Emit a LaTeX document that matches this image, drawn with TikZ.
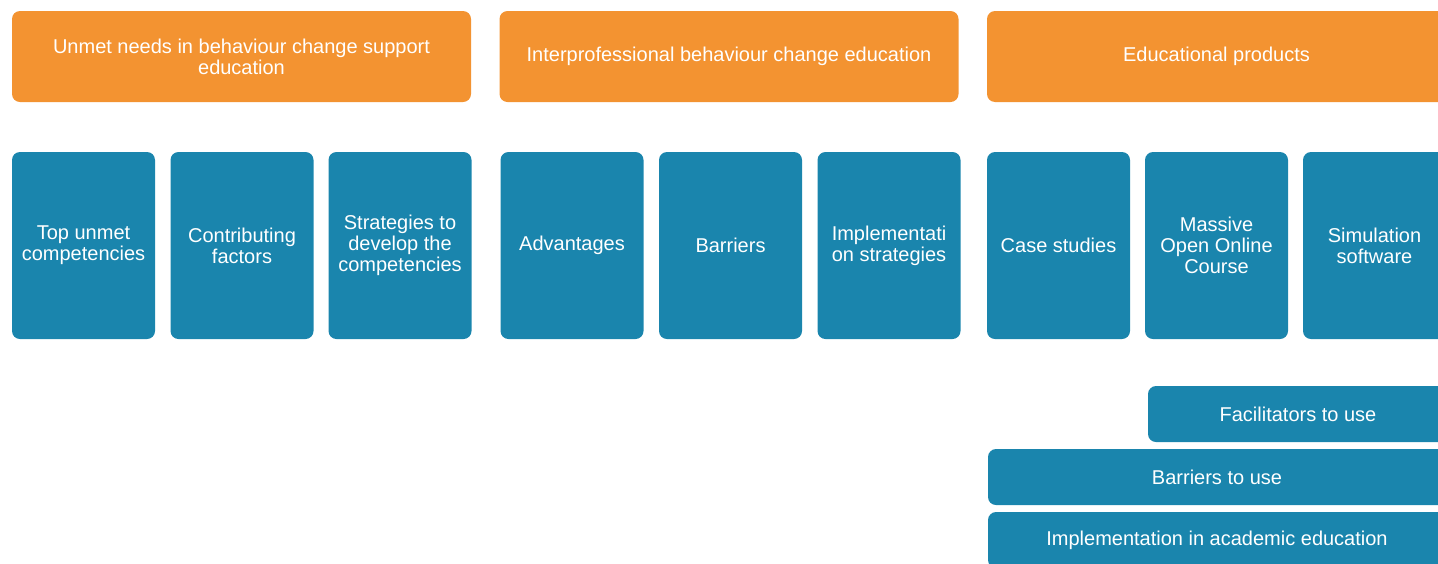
\documentclass[tikz,border=0pt]{standalone}
\usepackage{fontspec}
\setmainfont{Liberation Sans}
\definecolor{headorange}{HTML}{F39331}
\definecolor{cardblue}{HTML}{1A85AD}
\tikzset{box/.style={rounded corners=4pt, text=white, inner sep=0pt, align=center,
    font=\fontsize{10}{10.6}\selectfont},
  head/.style={box, fill=headorange, minimum width=229.5pt, minimum height=45.5pt},
  card/.style={box, fill=cardblue, minimum width=71.5pt, minimum height=93.5pt},
  bar/.style={box, fill=cardblue, minimum height=28pt}}

\begin{document}
\begin{tikzpicture}[x=0.5pt, y=-0.5pt]
  \clip (0,0) rectangle (1438,563);
  % three themes
  \node[head] (needs) at (241.5,56.5) {Unmet needs in behaviour change support\\education};
  \node[head] (ipe)   at (729,56.5)   {Interprofessional behaviour change education};
  \node[head] (prod)  at (1216.5,56.5) {Educational products};
  % subthemes
  \node[card] (top)   at (83.5,245.5)  {Top unmet\\competencies};
  \node[card] (fact)  at (242,245.5)   {Contributing\\factors};
  \node[card] (strat) at (400,245.5)   {Strategies to\\develop the\\competencies};
  \node[card] (adv)   at (572,245.5)   {Advantages};
  \node[card] (barr)  at (730.5,245.5) {Barriers};
  \node[card] (impl)  at (889,245.5)   {Implementati\\on strategies};
  \node[card] (case)  at (1058.5,245.5) {Case studies};
  \node[card] (mooc)  at (1216.5,245.5) {Massive\\Open Online\\Course};
  \node[card] (sim)   at (1374.5,245.5) {Simulation\\software};
  % cross-cutting bars under the products
  \node[bar, minimum width=150pt] (facil) at (1298,414)  {Facilitators to use};
  \node[bar, minimum width=229pt] (buse)  at (1217,477)  {Barriers to use};
  \node[bar, minimum width=229pt] (acad)  at (1217,540)  {Implementation in academic education};
\end{tikzpicture}
\end{document}
